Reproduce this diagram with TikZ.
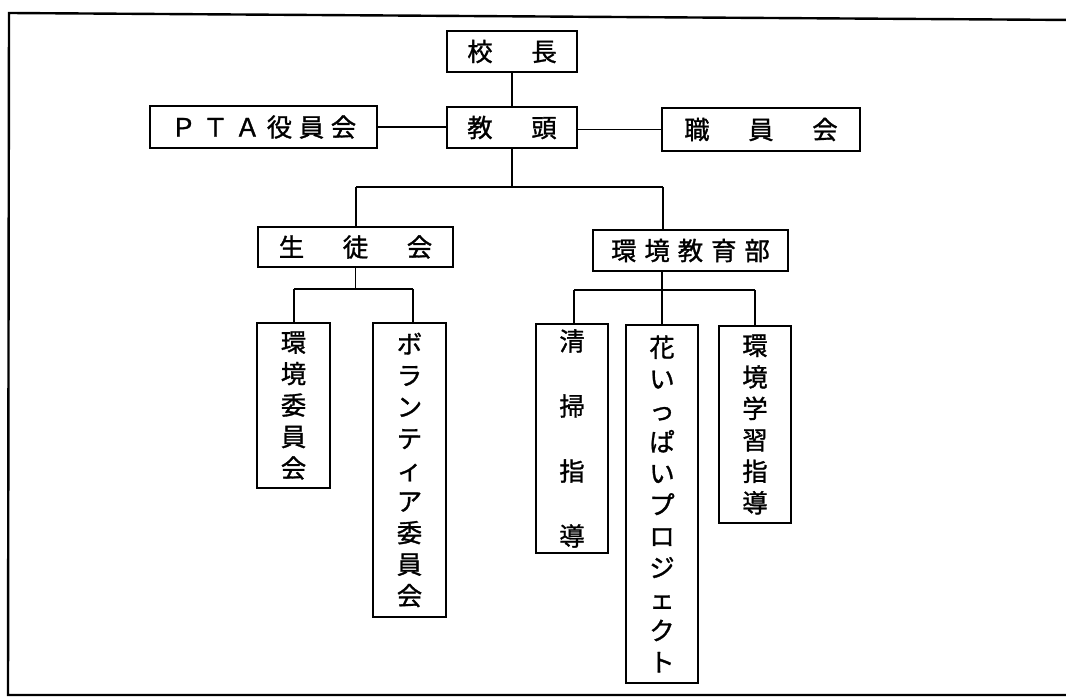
\documentclass[tikz,border=0pt]{standalone}
\usepackage{fontspec}
\newfontfamily\jp[FakeBold=1.2]{Noto Sans CJK JP}
\newcommand\gp{\hspace{5pt}}
\newcommand\gq{\hspace{6pt}}
\tikzset{
  box/.style={draw, line width=1.4pt, inner sep=0pt, align=center,
    font=\jp\fontsize{19}{23.6}\selectfont},
  conn/.style={line width=1.1pt},
  frame/.style={line width=1.8pt}
}
\begin{document}
\begin{tikzpicture}[x=0.75pt,y=-0.75pt]
\useasboundingbox (0,0) rectangle (1066,698);
% outer frame (right side lies beyond the picture)
\draw[frame] (1075,20) -- (9,13) -- (8,695) -- (1075,695);

% boxes
\node[box, minimum width=97.5pt, minimum height=30.75pt] (kocho) at (512,51.5) {校\gp{}　\gp{}長};
\node[box, minimum width=97.5pt, minimum height=30.75pt] (kyoto) at (512,127.5) {教\gp{}　\gp{}頭};
\node[box, minimum width=170.25pt, minimum height=31.5pt] (pta) at (263.5,127) {Ｐ\gp{}Ｔ\gp{}Ａ\gp{}役\gp{}員\gp{}会};
\node[box, minimum width=148.5pt, minimum height=32.25pt] (shokuin) at (761,129.5) {職\gp{}　\gp{}員\gp{}　\gp{}会};
\node[box, minimum width=146.25pt, minimum height=30pt] (seito) at (355.5,247) {生\gp{}　\gp{}徒\gp{}　\gp{}会};
\node[box, minimum width=146.25pt, minimum height=30.75pt] (kankyo) at (690.5,250.5) {環\gq{}境\gq{}教\gq{}育\gq{}部};

\node[box, minimum width=54.75pt, minimum height=123.75pt] (iin) at (293.5,405.5) {環\\境\\委\\員\\会};
\node[box, minimum width=54.75pt, minimum height=220.5pt] (vol) at (409.5,470) {ボ\\ラ\\ン\\テ\\ィ\\ア\\委\\員\\会};
\node[box, minimum width=54pt, minimum height=171.75pt, font=\jp\fontsize{19}{48.75}\selectfont] (seiso) at (572,438.5) {清\\掃\\指\\導};
\node[box, minimum width=54pt, minimum height=268.5pt] (hana) at (662,504) {花\\い\\っ\\ぱ\\い\\プ\\ロ\\ジ\\ェ\\ク\\ト};
\node[box, minimum width=54pt, minimum height=147.75pt] (gaku) at (755,424.5) {環\\境\\学\\習\\指\\導};

% connectors
\draw[conn] (kocho.south) -- (kyoto.north);
\draw[conn] (pta.east) -- (pta.east -| kyoto.west);
\draw[conn] (kyoto.east |- shokuin.west) -- (shokuin.west);

\coordinate (h1L) at (356,187);
\coordinate (h1R) at (663,187);
\draw[conn] (kyoto.south) -- (kyoto.south |- h1L);
\draw[conn] (h1L) -- (h1R);
\draw[conn] (h1L) -- (h1L |- seito.north);
\draw[conn] (h1R) -- (h1R |- kankyo.north);

\coordinate (h2L) at (294,289);
\coordinate (h2R) at (413,289);
\draw[conn] (seito.south) -- (seito.south |- h2L);
\draw[conn] (h2L) -- (h2R);
\draw[conn] (h2L) -- (h2L |- iin.north);
\draw[conn] (h2R) -- (h2R |- vol.north);

\coordinate (h3L) at (574,290);
\coordinate (h3M) at (662,290);
\coordinate (h3R) at (755,290);
\draw[conn] (h3M |- kankyo.south) -- (h3M);
\draw[conn] (h3L) -- (h3R);
\draw[conn] (h3L) -- (h3L |- seiso.north);
\draw[conn] (h3M) -- (hana.north);
\draw[conn] (h3R) -- (gaku.north);
\end{tikzpicture}
\end{document}
